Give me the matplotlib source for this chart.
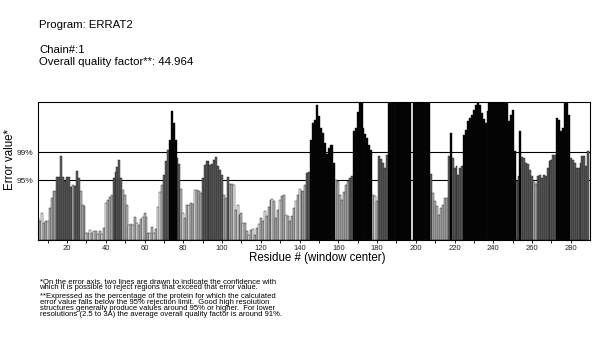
import matplotlib
matplotlib.use('Agg')
from matplotlib import pyplot as plt

plt.rcParams['font.family'] = 'Liberation Sans'

# ERRAT2 error value per window centre (residue 5 .. 289)
residues = list(range(5, 290))
errors = [
    4.3, 3.7, 5.3, 3.3, 3.7, 3.7, 6.3, 8.2, 9.6, 9.6,            # 5-14
    12.3, 12.3, 16.4, 12.3, 11.5, 12.3, 12.3, 10.4, 10.8, 10.6,  # 15-24
    13.5, 12.1, 9.6, 6.8, 6.7, 1.4, 1.4, 2.0, 1.4, 1.8,          # 25-34
    1.8, 1.2, 1.8, 1.2, 2.3, 7.2, 7.8, 8.4, 8.8, 12.1,           # 35-44
    13.3, 14.3, 15.7, 12.1, 9.8, 8.8, 6.8, 2.9, 3.1, 2.9,        # 45-54
    4.5, 3.3, 2.9, 4.1, 4.5, 5.3, 4.5, 1.4, 1.4, 2.5,            # 55-64
    1.4, 2.2, 6.5, 9.4, 10.8, 12.7, 15.5, 17.6, 19.6, 25.2,      # 65-74
    22.9, 19.6, 16.0, 14.9, 10.0, 5.3, 4.3, 6.8, 6.8, 7.2,       # 75-84
    7.0, 9.8, 9.8, 9.6, 9.2, 12.1, 14.7, 15.5, 15.5, 14.7,       # 85-94
    14.9, 15.7, 16.2, 14.5, 13.7, 12.7, 8.8, 8.2, 12.3, 11.0,    # 95-104
    11.0, 10.8, 5.9, 6.8, 4.9, 5.3, 3.3, 3.3, 1.8, 1.0,          # 105-114
    2.0, 2.2, 1.0, 2.3, 3.1, 4.3, 3.7, 5.7, 4.7, 6.5,            # 115-124
    7.8, 8.0, 7.6, 4.3, 5.9, 7.8, 8.6, 8.8, 4.9, 4.7,            # 125-134
    3.7, 4.7, 6.3, 7.6, 8.8, 10.0, 9.6, 9.6, 10.8, 13.1,         # 135-144
    13.3, 19.6, 22.9, 23.5, 26.4, 24.3, 21.9, 20.9, 19.0, 16.8,  # 145-154
    18.0, 18.6, 18.6, 15.1, 11.7, 11.5, 8.8, 7.8, 9.4, 10.8,     # 155-164
    11.5, 12.1, 12.5, 21.3, 21.9, 25.0, 30, 30, 21.9, 20.7,      # 165-174
    20.0, 18.6, 17.6, 8.8, 8.6, 7.6, 16.4, 15.9, 15.1, 14.1,     # 175-184
    16.6, 30, 30, 30, 30, 30, 30, 30, 30, 30,                    # 185-194
    30, 30, 30, 0, 30, 30, 30, 30, 30, 30,                       # 195-204
    30, 30, 30, 12.9, 9.2, 7.6, 6.7, 4.9, 6.3, 6.8,              # 205-214
    8.2, 8.2, 16.4, 20.9, 16.0, 14.1, 14.5, 12.7, 14.1, 14.5,    # 215-224
    20.5, 21.5, 23.3, 23.9, 24.5, 25.4, 26.4, 30, 26.4, 24.9,    # 225-234
    23.7, 22.9, 25.2, 30, 30, 30, 30, 30, 30, 30,                # 235-244
    30, 30, 30, 23.3, 24.5, 25.4, 17.4, 11.5, 12.5, 21.3,        # 245-254
    16.2, 16.0, 15.1, 14.9, 13.7, 12.5, 11.4, 11.0, 12.5, 12.7,  # 255-264
    12.1, 12.7, 12.5, 14.1, 15.5, 15.7, 16.6, 16.6, 23.9, 23.5,  # 265-274
    21.3, 21.9, 30, 30, 24.5, 16.0, 15.7, 15.1, 14.1, 14.1,      # 275-284
    15.1, 16.4, 16.4, 14.5, 17.4,                                # 285-289
]
# bar shade per residue: w = white, l = light grey, d = dark grey, k = black
shades = ("llwllwllwl" "ddddddddld" "ddlllwlwlw" "lwlwlwllld" "ddddlllwlw"
          "lwllwlwlwl" "wlwwldddkk" "kkddlwllwl" "lwlllddddd" "ddddddlldl"
          "lwlwllwllw" "lwllwllwll" "lwlllwllwl" "lllwlwllld" "dkkkkkkkkk"
          "kkkkllllll" "lddkkkkkkk" "kkklwldddd" "dkkkkkkkkk" "kkkkkkkkkk"
          "kkkdllllll" "lldkdddddd" "kkkkkkkkkk" "kkkkkkkkkk" "kkkkkkkddk"
          "ddddddlldd" "ddddddddkk" "kkkkkddddd" "ddddd")
shade_colors = {'w': '#f6f6f6', 'l': '#bdbdbd', 'd': '#636363', 'k': '#000000'}

limit_values = [11.7, 17.2]
limit_labels = ['95%', '99%']

header = ['Program: ERRAT2', 'Chain#:1', 'Overall quality factor**: 44.964']
note1 = [
    '*On the error axis, two lines are drawn to indicate the confidence with',
    'which it is possible to reject regions that exceed that error value.',
]
note2 = [
    '**Expressed as the percentage of the protein for which the calculated',
    'error value falls below the 95% rejection limit.  Good high resolution',
    'structures generally produce values around 95% or higher.  For lower',
    'resolutions (2.5 to 3A) the average overall quality factor is around 91%.',
]

W, H = 598, 338
fig = plt.figure(figsize=(W / 100, H / 100), dpi=100)
ax = fig.add_axes([37.7 / W, 1 - 240 / H, (590 - 37.7) / W, 138 / H])

for v in limit_values:
    ax.axhline(v, color='black', lw=0.8, zorder=1)

ax.bar(residues, errors, width=1.0, color=[shade_colors[c] for c in shades],
       edgecolor='#111111', linewidth=0.3, zorder=2)

ax.set_xlim(4.85, 289.9)
ax.set_ylim(0, 27)
ax.set_xticks(range(20, 290, 20))
ax.set_xticks(range(10, 290, 20), minor=True)
ax.tick_params(axis='x', which='both', length=2.5, width=0.6, direction='out',
               labelsize=5.5, labelcolor='#222222', pad=1)
ax.set_yticks(limit_values)
ax.set_yticklabels(limit_labels)
ax.tick_params(axis='y', length=0, labelsize=6, labelcolor='#222222', pad=3)
for s in ax.spines.values():
    s.set_linewidth(0.8)

def px(x, y):
    return x / W, 1 - y / H

fig.text(*px(39, 25), header[0], fontsize=8.2, va='center')
fig.text(*px(39, 50), header[1], fontsize=8.2, va='center')
fig.text(*px(39, 62), header[2], fontsize=8.2, va='center')

fig.text(*px(10, 160), 'Error value*', fontsize=8.3, rotation=90,
         ha='center', va='center')
fig.text(*px(317, 257.5), 'Residue # (window center)', fontsize=8.3,
         ha='center', va='center')

# footnotes, tightly spaced as in the original
fig.text(*px(39.5, 278.5), '\n'.join(note1), fontsize=5.5, va='top',
         linespacing=0.78)
fig.text(*px(39.5, 293.5), '\n'.join(note2), fontsize=5.5, va='top',
         linespacing=0.78)

plt.savefig('out.png', dpi=100)
